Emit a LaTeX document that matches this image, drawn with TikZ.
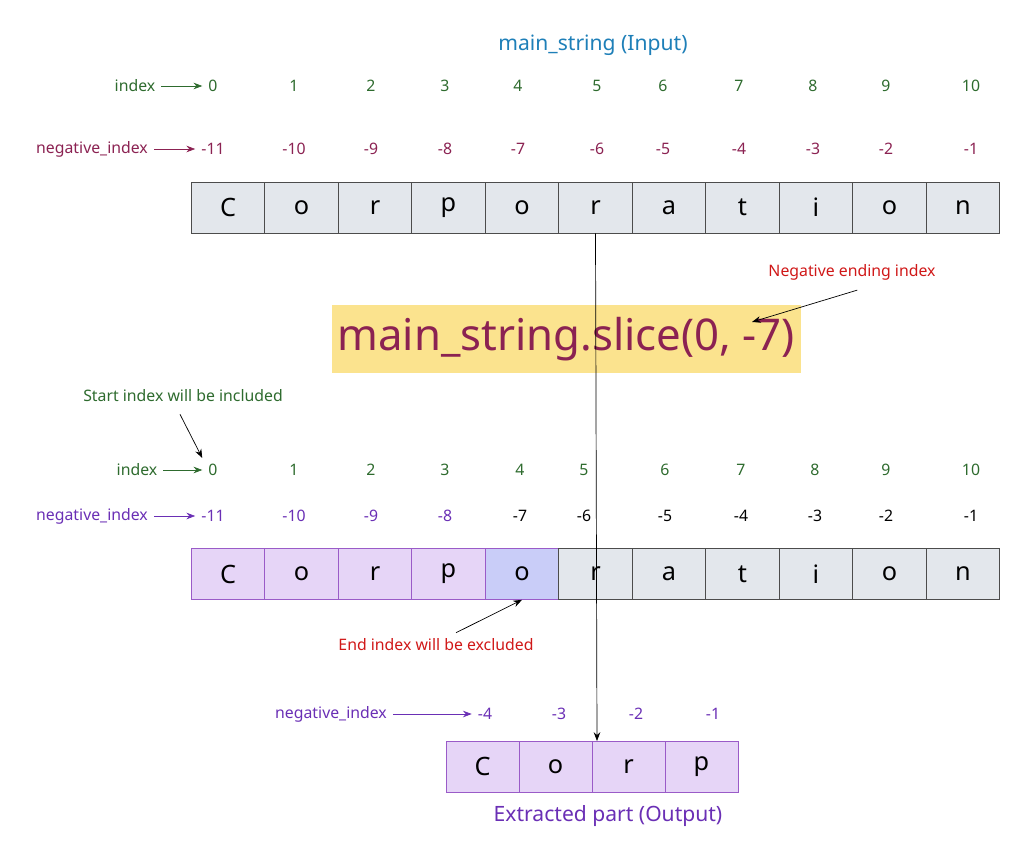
\documentclass[tikz,border=0pt]{standalone}
\usepackage{fontspec}
\setmainfont{Noto Sans}
\usetikzlibrary{arrows.meta}
\definecolor{idxgreen}{HTML}{2E6B2E}
\definecolor{negred}{HTML}{8B2252}
\definecolor{negpurple}{HTML}{6A2FB5}
\definecolor{cellgray}{HTML}{E3E7EC}
\definecolor{cellpurple}{HTML}{E6D5F7}
\definecolor{cellblue}{HTML}{C9CDF8}
\definecolor{edgepurple}{HTML}{9A5BC8}
\definecolor{noteyellow}{HTML}{FBE38E}
\definecolor{titleblue}{HTML}{1E7FB8}
\definecolor{notered}{HTML}{D01818}
\begin{document}
\begin{tikzpicture}[x=0.02cm, y=-0.02cm,
    cell/.style={draw=black!70, fill=cellgray, minimum width=73.5*0.02cm, minimum height=51*0.02cm, inner sep=0pt, font=\Large},
    pcell/.style={cell, draw=edgepurple, fill=cellpurple},
    lbl/.style={font=\small},
    arr/.style={-{Stealth[length=5pt]}}]
    % Rahmen
    \useasboundingbox (0,0) rectangle (1024,862);

    \node[titleblue, font=\large] (title) at (593,45) {main\_string (Input)};

    % Obere Reihe
    \node[lbl, idxgreen] (idxA) at (135,86) {index};
    \node[lbl, negred] (negA) at (92,149) {negative\_index};
    \foreach \x/\i/\n [count=\k from 0] in {213/0/-11, 294/1/-10, 371/2/-9, 445/3/-8, 518/4/-7, 597/5/-6, 663/6/-5, 739/7/-4, 813/8/-3, 886/9/-2, 971/10/-1} {
        \node[lbl, idxgreen] (ia\k) at (\x,86) {\i};
        \node[lbl, negred] (na\k) at (\x,149) {\n};
    }
    \draw[arr, idxgreen] (idxA) -- (ia0);
    \draw[arr, negred] (negA) -- (na0);
    \foreach \c [count=\k from 0] in {C,o,r,p,o,r,a,t,i,o,n}
        \node[cell] (ca\k) at (228+73.5*\k,207.5) {\c};

    % Aufruf
    \node[fill=noteyellow, font=\Huge, text=negred, minimum width=393*0.02cm, minimum height=68*0.02cm] (call) at (566,339) {main\_string.slice(0, -7)};
    \node[notered, font=\small] (negnote) at (852,272) {Negative ending index};
    \draw[arr] (negnote.south west) ++(95,4) coordinate (nn) (nn) -- (752,322);
    \node[idxgreen, font=\small] (startnote) at (183,396) {Start index will be included};

    % Mittlere Reihe
    \node[lbl, idxgreen] (idxB) at (137,470) {index};
    \node[lbl, negpurple] (negB) at (92,516) {negative\_index};
    \foreach \x/\i/\n/\col [count=\k from 0] in {213/0/-11/negpurple, 294/1/-10/negpurple, 371/2/-9/negpurple, 445/3/-8/negpurple, 520/4/-7/black, 584/5/-6/black, 665/6/-5/black, 741/7/-4/black, 815/8/-3/black, 886/9/-2/black, 971/10/-1/black} {
        \node[lbl, idxgreen] (ib\k) at (\x,470) {\i};
        \node[lbl, \col] (nb\k) at (\x,516) {\n};
    }
    \draw[arr, idxgreen] (idxB) -- (ib0);
    \draw[arr, negpurple] (negB) -- (nb0);
    \draw[arr] (startnote.south) ++(-3,6) -- (ib0.north west);
    \foreach \c [count=\k from 0] in {C,o,r,p}
        \node[pcell] (cb\k) at (228+73.5*\k,574) {\c};
    \node[pcell, fill=cellblue] (cb4) at (522,574) {o};
    \foreach \c [count=\k from 5] in {r,a,t,i,o,n}
        \node[cell] (cb\k) at (228+73.5*\k,574) {\c};
    \node[notered, font=\small] (endnote) at (436,645) {End index will be excluded};
    \draw[arr] (endnote.north) ++(20,0) -- (cb4.south);

    % Ergebnis
    \node[lbl, negpurple] (negC) at (331,714) {negative\_index};
    \foreach \x/\n [count=\k from 0] in {485/-4, 559/-3, 636/-2, 713/-1}
        \node[lbl, negpurple] (nc\k) at (\x,714) {\n};
    \draw[arr, negpurple] (negC) -- (nc0);
    \foreach \c [count=\k from 0] in {C,o,r,p}
        \node[pcell, minimum width=73*0.02cm] (cc\k) at (482.5+73*\k,766.5) {\c};
    \node[negpurple, font=\large] (out) at (608,816) {Extracted part (Output)};

    % Verbindungslinie
    \draw[arr] (ca5.south) -- (597,741);
\end{tikzpicture}
\end{document}
